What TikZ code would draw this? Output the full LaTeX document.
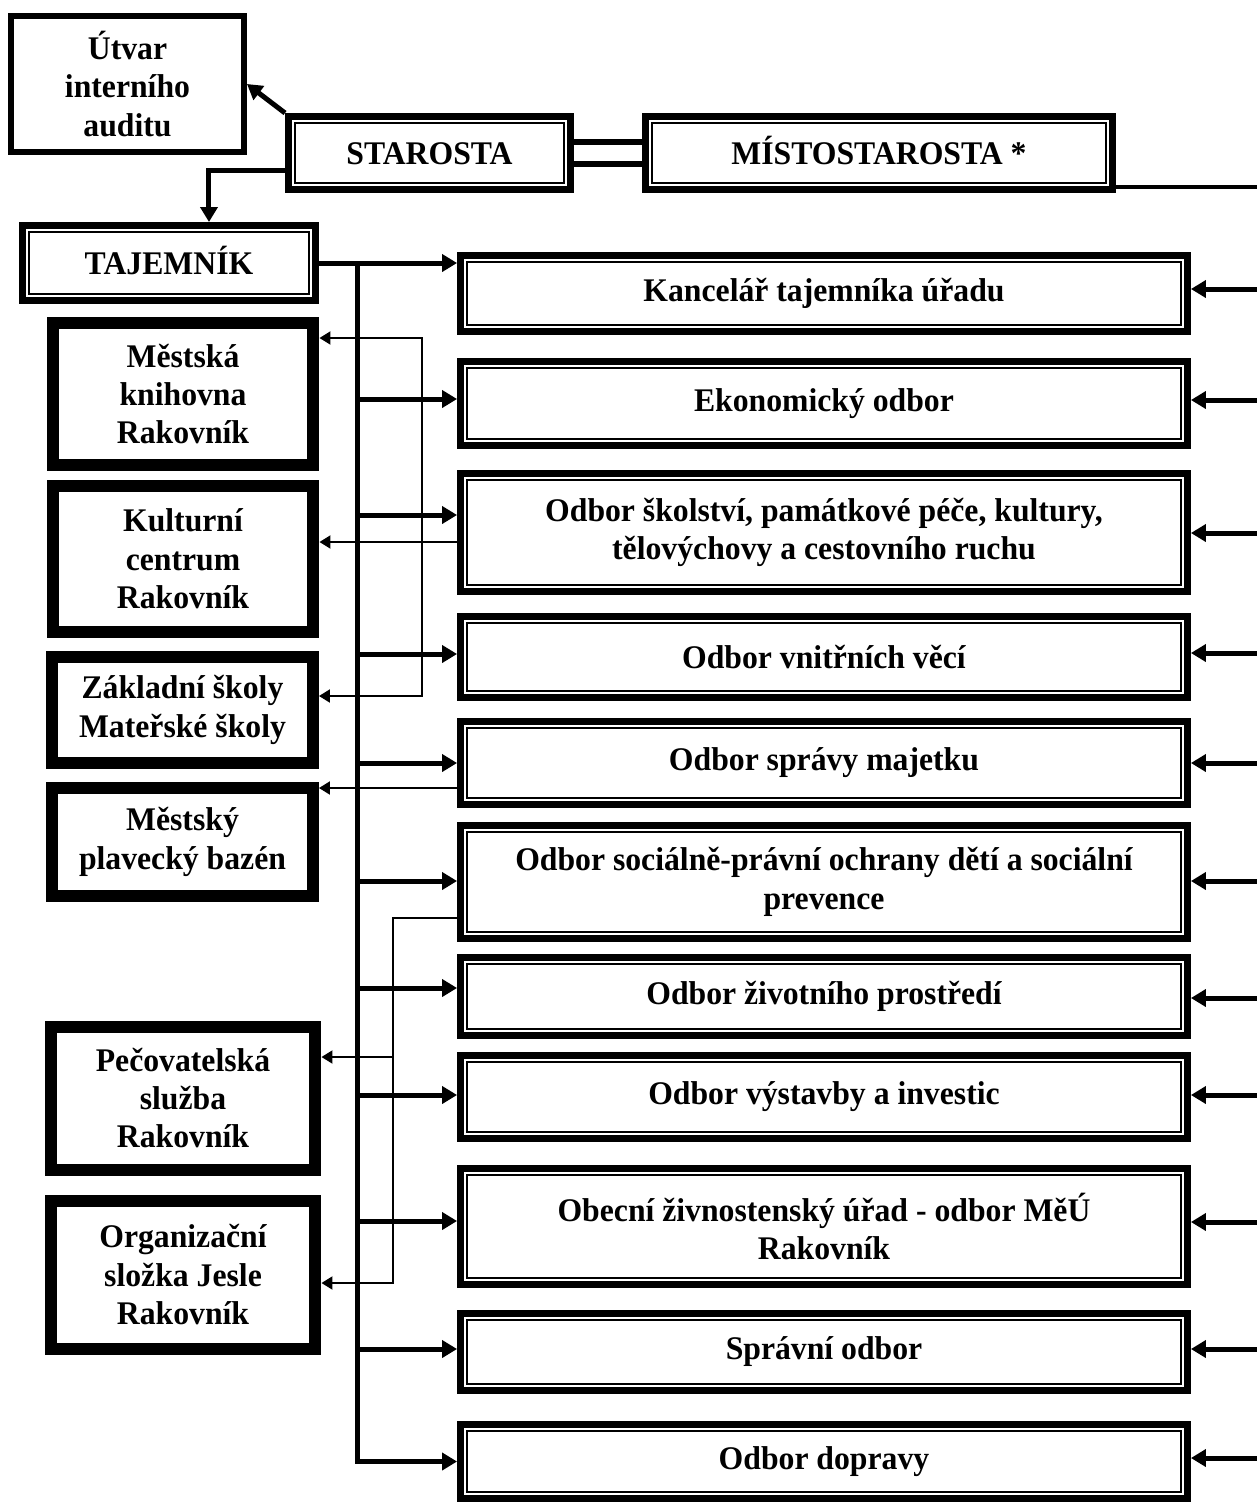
\documentclass[tikz,border=0pt]{standalone}
\usepackage{fontspec}
\setmainfont[FakeStretch=0.96]{Liberation Serif}
\usepackage{tikz}
\usetikzlibrary{%
	calc,%
	arrows.meta
}

\begin{document}
\begin{tikzpicture}[x=0.02cm,y=-0.02cm,
		font=\fontsize{18.8pt}{21.9pt}\selectfont\bfseries,
		frame/.style={draw, line width=0.14cm, align=center, inner sep=0pt,
			path picture={\draw[line width=0.035cm]
				([shift={(0.13cm,0.13cm)}]path picture bounding box.south west) rectangle
				([shift={(-0.13cm,-0.13cm)}]path picture bounding box.north east);}},
		caps/.style={text height=0.44cm, text depth=0cm},
		dept/.style={frame, minimum width=14.54cm},
		unit/.style={draw, line width=0.24cm, align=center, inner sep=0pt, minimum width=5.22cm},
		feed/.style={line width=0.1cm, >={Triangle[length=0.3cm,width=0.34cm]}},
		link/.style={line width=0.04cm, >={Triangle[length=0.22cm,width=0.26cm]}}]
		\useasboundingbox (0,0) rectangle (1257,1502);

		% Top of the office
		\node[draw, line width=0.12cm, align=center, inner sep=0pt, minimum width=4.66cm, minimum height=2.72cm] (utv) at (127.5,84) {Útvar\\interního\\auditu};
		\node[frame, caps, minimum width=5.64cm, minimum height=1.46cm] (sta) at (429.5,153) {STAROSTA};
		\node[frame, caps, minimum width=9.34cm, minimum height=1.46cm] (mis) at (879,153) {MÍSTOSTAROSTA *};
		\node[frame, caps, minimum width=5.86cm, minimum height=1.5cm] (taj) at (169,263) {TAJEMNÍK};

		% Departments
		\node[dept, minimum height=1.52cm] (kanc) at (824,293.5) {Kancelář tajemníka úřadu};
		\node[dept, minimum height=1.68cm] (eko) at (824,403.5) {Ekonomický odbor};
		\node[dept, minimum height=2.36cm] (skol) at (824,532.5) {Odbor školství, památkové péče, kultury,\\tělovýchovy a cestovního ruchu};
		\node[dept, minimum height=1.62cm] (vnit) at (824,657) {Odbor vnitřních věcí};
		\node[dept, minimum height=1.66cm] (maj) at (824,763) {Odbor správy majetku};
		\node[dept, minimum height=2.26cm] (soc) at (824,882) {Odbor sociálně-právní ochrany dětí a sociální\\prevence};
		\node[dept, minimum height=1.56cm] (zivp) at (824,996.5) {Odbor životního prostředí};
		\node[dept, minimum height=1.66cm] (vyst) at (824,1097) {Odbor výstavby a investic};
		\node[dept, minimum height=2.32cm] (zivn) at (824,1226.5) {Obecní živnostenský úřad - odbor MěÚ\\Rakovník};
		\node[dept, minimum height=1.54cm] (spr) at (824,1352) {Správní odbor};
		\node[dept, minimum height=1.48cm] (dop) at (824,1461.5) {Odbor dopravy};

		% Organisations
		\node[unit, minimum height=2.86cm] (kni) at (183,394) {Městská\\knihovna\\Rakovník};
		\node[unit, minimum height=2.94cm] (kul) at (183,559) {Kulturní\\centrum\\Rakovník};
		\node[unit, minimum height=2.12cm] (zak) at (182.5,710) {Základní školy\\Mateřské školy};
		\node[unit, minimum height=2.16cm] (baz) at (182.5,842) {Městský\\plavecký bazén};
		\node[unit, minimum width=5.3cm, minimum height=2.86cm] (pec) at (183,1098) {Pečovatelská\\služba\\Rakovník};
		\node[unit, minimum width=5.3cm, minimum height=2.96cm] (jes) at (183,1274.5) {Organizační\\složka Jesle\\Rakovník};

		% Lines from the top
		\draw[feed,->] (sta.north west) -- (utv.east);
		\draw[feed,->] ([yshift=-0.34cm]sta.west) -| ([xshift=0.8cm]taj.north);
		\draw[line width=0.12cm, double distance=0.32cm] (sta.east) -- (mis.west);
		\coordinate (re) at (1257,187);
		\draw[line width=0.08cm] (mis.east |- re) -- (re);

		% Trunk from the secretary
		\coordinate (trunk) at (357,0);
		\draw[feed,->] (taj.east) -- (taj.east -| kanc.west);
		\draw[feed,->] (trunk |- taj.east) |- (dop.west);
		\foreach \b/\y in {eko/399, skol/515, vnit/654, maj/763, soc/881, zivp/988, vyst/1095, zivn/1221, spr/1349}{
			\coordinate (p) at (357,\y);
			\draw[feed,->] (p) -- (p -| \b.west);
		}

		% Arrows from the right
		\foreach \b/\y in {kanc/289, eko/400, skol/533, vnit/653, maj/763, soc/881, zivp/998, vyst/1095, zivn/1222, spr/1349, dop/1458}{
			\coordinate (r) at (1257,\y);
			\draw[feed,->] (r) -- (r -| \b.east);
		}

		% Thin links to the organisations
		\coordinate (ja) at (422,338);
		\coordinate (jb) at (422,696);
		\coordinate (ks) at (0,542);
		\draw[link,<->] (kni.east |- ja) -- (ja) -- (jb) -- (zak.east |- jb);
		\draw[link,->] (skol.west |- ks) -- (kul.east |- ks);
		\coordinate (km) at (0,788);
		\draw[link,->] (maj.west |- km) -- (baz.east |- km);
		\coordinate (jc) at (393,918);
		\coordinate (jd) at (393,1283);
		\coordinate (je) at (393,1057);
		\draw[link,->] (soc.west |- jc) -- (jc) -- (jd) -- (jes.east |- jd);
		\draw[link,->] (je) -- (pec.east |- je);
	\end{tikzpicture}
\end{document}
